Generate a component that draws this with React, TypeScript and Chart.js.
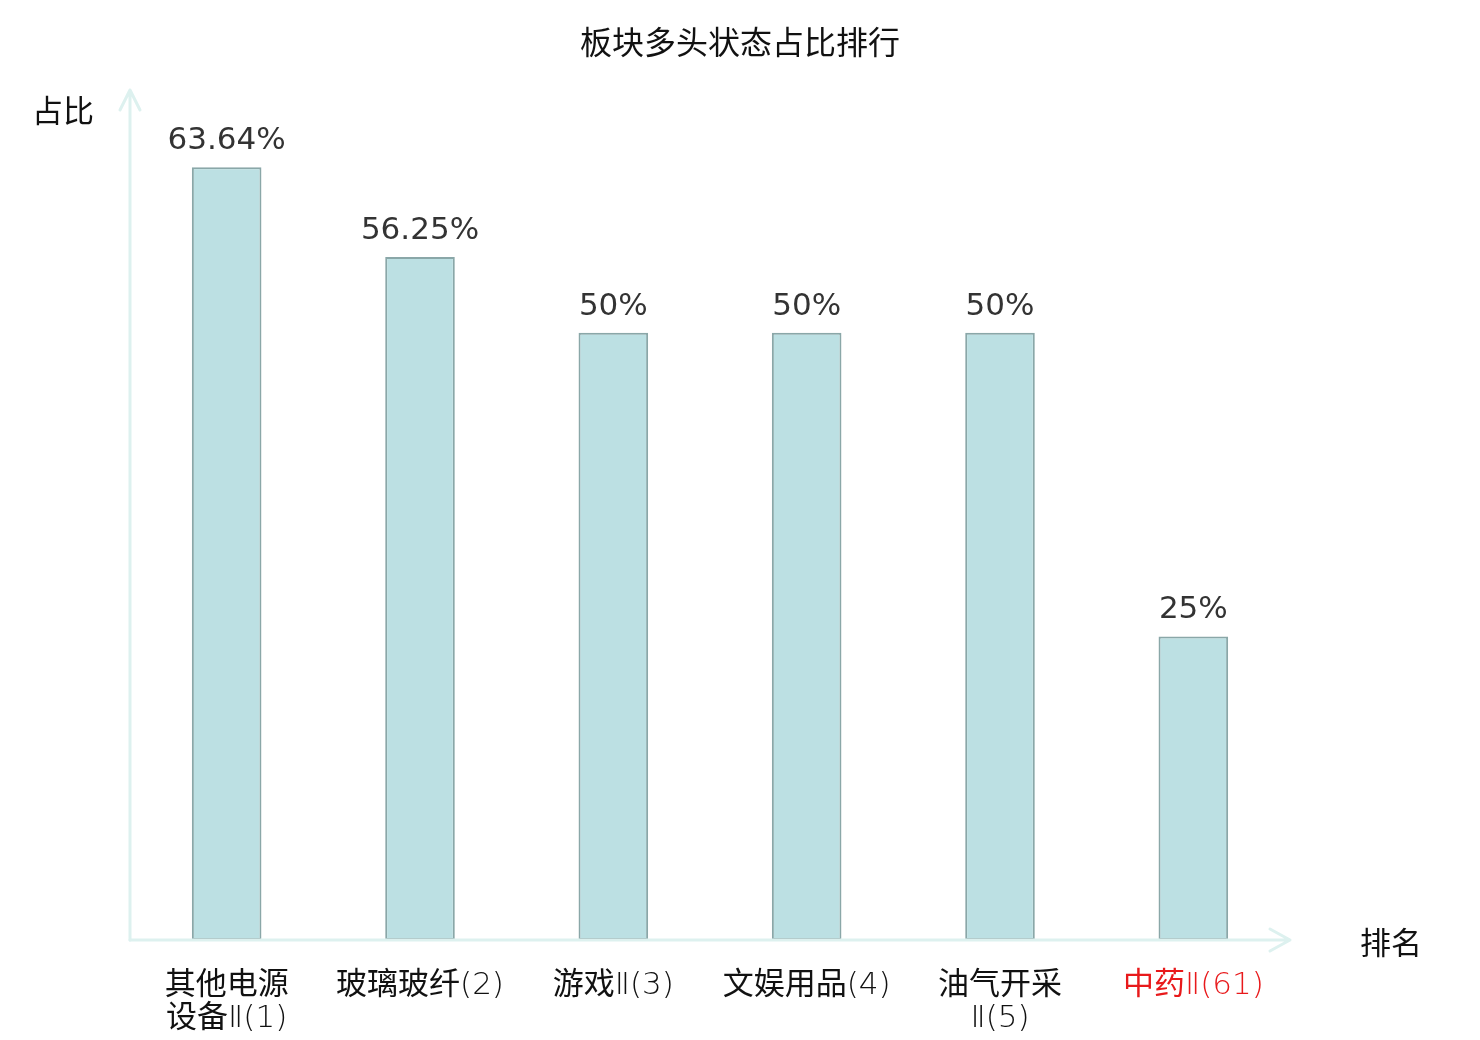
import React, { useEffect, useRef } from "react";
import { Chart, registerables } from "chart.js";

Chart.register(...registerables);

const title = "板块多头状态占比排行";
const yAxisName = "占比";
const xAxisName = "排名";
const categories: string[][] = [
  ["其他电源", "设备Ⅱ(1)"],
  ["玻璃玻纤(2)"],
  ["游戏Ⅱ(3)"],
  ["文娱用品(4)"],
  ["油气开采", "Ⅱ(5)"],
  ["中药Ⅱ(61)"],
];
const values: number[] = [63.64, 56.25, 50, 50, 50, 25];
const valueLabels: string[] = ["63.64%", "56.25%", "50%", "50%", "50%", "25%"];
const highlightIndex = 5;
const yMax = 70;

const AXIS_COLOR = "#ddf1ef";
const CJK = '"Noto Sans CJK SC", "Noto Sans", sans-serif';

const decorPlugin = {
  id: "decor",
  afterDatasetsDraw(chart: any) {
    const ctx = chart.ctx as CanvasRenderingContext2D;
    const { left, right, top, bottom } = chart.chartArea;
    ctx.save();
    ctx.strokeStyle = AXIS_COLOR;
    ctx.lineCap = "round";
    ctx.lineJoin = "round";
    ctx.lineWidth = 3;
    ctx.beginPath();
    ctx.moveTo(left, bottom);
    ctx.lineTo(right, bottom);
    ctx.moveTo(right - 20, bottom - 11);
    ctx.lineTo(right, bottom);
    ctx.lineTo(right - 20, bottom + 11);
    ctx.stroke();
    ctx.beginPath();
    ctx.moveTo(left, bottom);
    ctx.lineTo(left, top);
    ctx.moveTo(left - 10, top + 20);
    ctx.lineTo(left, top);
    ctx.lineTo(left + 10, top + 20);
    ctx.stroke();

    const meta = chart.getDatasetMeta(0);
    ctx.fillStyle = "#333333";
    ctx.font = '31px "DejaVu Sans", sans-serif';
    ctx.textAlign = "center";
    ctx.textBaseline = "alphabetic";
    meta.data.forEach((bar: any, i: number) => {
      ctx.fillText(valueLabels[i], bar.x, bar.y - 18);
    });

    ctx.fillStyle = "#111111";
    ctx.textBaseline = "middle";
    ctx.textAlign = "center";
    ctx.font = "32px " + CJK;
    ctx.fillText(title, 740, 42);
    ctx.font = "31px " + CJK;
    ctx.fillText(yAxisName, 63, 110);
    ctx.fillText(xAxisName, 1391, 942);
    ctx.restore();
  },
};

export default function App() {
  const ref = useRef<HTMLCanvasElement | null>(null);
  useEffect(() => {
    document.body.style.margin = "0";
    const chart = new Chart(ref.current as HTMLCanvasElement, {
      type: "bar",
      data: {
        labels: categories,
        datasets: [
          {
            data: values,
            backgroundColor: "#bce0e3",
            borderColor: "#8aa7a8",
            borderWidth: 2,
            borderSkipped: false,
            barPercentage: 0.36,
            categoryPercentage: 1,
          },
        ],
      },
      options: {
        animation: false,
        responsive: false,
        devicePixelRatio: 1,
        layout: { padding: { left: 0, right: 190, top: 90, bottom: 0 } },
        plugins: {
          legend: { display: false },
          tooltip: { enabled: false },
          title: { display: false },
        },
        scales: {
          x: {
            grid: { display: false, drawTicks: false },
            border: { display: false },
            ticks: {
              padding: 30,
              autoSkip: false,
              maxRotation: 0,
              minRotation: 0,
              font: { family: '"DejaVu Sans Light", "Noto Sans CJK SC", sans-serif', weight: "normal", size: 31, lineHeight: 1.06 },
              color: (c: any) => (c.index === highlightIndex ? "#e8191b" : "#111111"),
            },
            afterFit: (s: any) => {
              s.height = 100;
            },
          },
          y: {
            min: 0,
            max: yMax,
            grid: { display: false, drawTicks: false },
            border: { display: false },
            ticks: { display: false },
            afterFit: (s: any) => {
              s.width = 130;
            },
          },
        },
      },
      plugins: [decorPlugin],
    });
    return () => chart.destroy();
  }, []);
  return (
    <div style={{ width: 1480, height: 1040, background: "#fff" }}>
      <canvas ref={ref} width={1480} height={1040} style={{ display: "block" }} />
    </div>
  );
}
